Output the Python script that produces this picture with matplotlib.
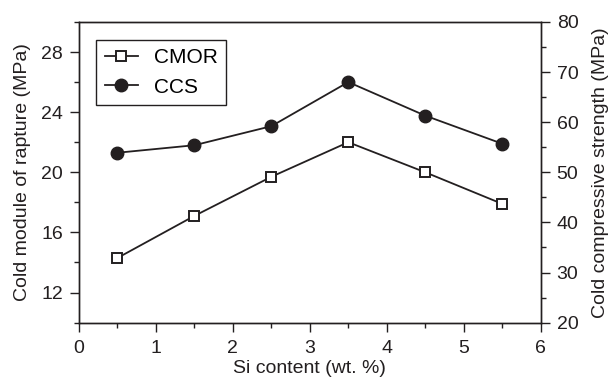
import matplotlib.pyplot as plt
from matplotlib.ticker import MultipleLocator

plt.rcParams['font.family'] = ['Liberation Sans', 'DejaVu Sans']

si = [0.5, 1.5, 2.5, 3.5, 4.5, 5.5]
cmor = [14.3, 17.1, 19.7, 22.0, 20.0, 17.9]
ccs = [53.9, 55.4, 59.2, 68.0, 61.3, 55.7]

ink = '#231f20'

fig = plt.figure(figsize=(6.12, 3.85), dpi=100)
ax = fig.add_axes([0.129, 0.162, 0.7545, 0.781])
ax2 = ax.twinx()

l1, = ax.plot(si, cmor, color=ink, lw=1.3, marker='s', ms=7.5,
              mfc='white', mec=ink, mew=1.4, label='CMOR')
l2, = ax2.plot(si, ccs, color=ink, lw=1.3, marker='o', ms=9,
               mfc=ink, mec=ink, label='CCS')

ax.set_xlim(0, 6)
ax.set_ylim(10, 30)
ax2.set_ylim(20, 80)

ax.xaxis.set_major_locator(MultipleLocator(1))
ax.xaxis.set_minor_locator(MultipleLocator(0.5))
ax.yaxis.set_minor_locator(MultipleLocator(2))
ax.set_yticks([12, 16, 20, 24, 28])
ax2.yaxis.set_major_locator(MultipleLocator(10))
ax2.yaxis.set_minor_locator(MultipleLocator(5))

for a in (ax, ax2):
    for s in a.spines.values():
        s.set_color(ink)
        s.set_linewidth(1.0)
    a.tick_params(which='major', direction='out', length=6.5, width=1.0,
                  color=ink, labelsize=14, labelcolor=ink, pad=5)
    a.tick_params(which='minor', direction='out', length=3.5, width=1.0, color=ink)
ax.tick_params(axis='x', pad=6)
ax.tick_params(top=False, which='both')

ax.set_xlabel('Si content (wt. %)', fontsize=14, color=ink, labelpad=2)
ax.set_ylabel('Cold module of rapture (MPa)', fontsize=14, color=ink, labelpad=7.5)
ax2.set_ylabel('Cold compressive strength (MPa)', fontsize=14, color=ink, labelpad=10)

leg = ax.legend(handles=[l1, l2], loc='upper left', bbox_to_anchor=(0.038, 0.94),
                fontsize=15, handlelength=1.6, handletextpad=0.75,
                borderpad=0.4, labelspacing=0.5, fancybox=False,
                framealpha=1, edgecolor=ink, borderaxespad=0)
leg.get_frame().set_linewidth(1.0)

fig.savefig('out.png', dpi=100)
